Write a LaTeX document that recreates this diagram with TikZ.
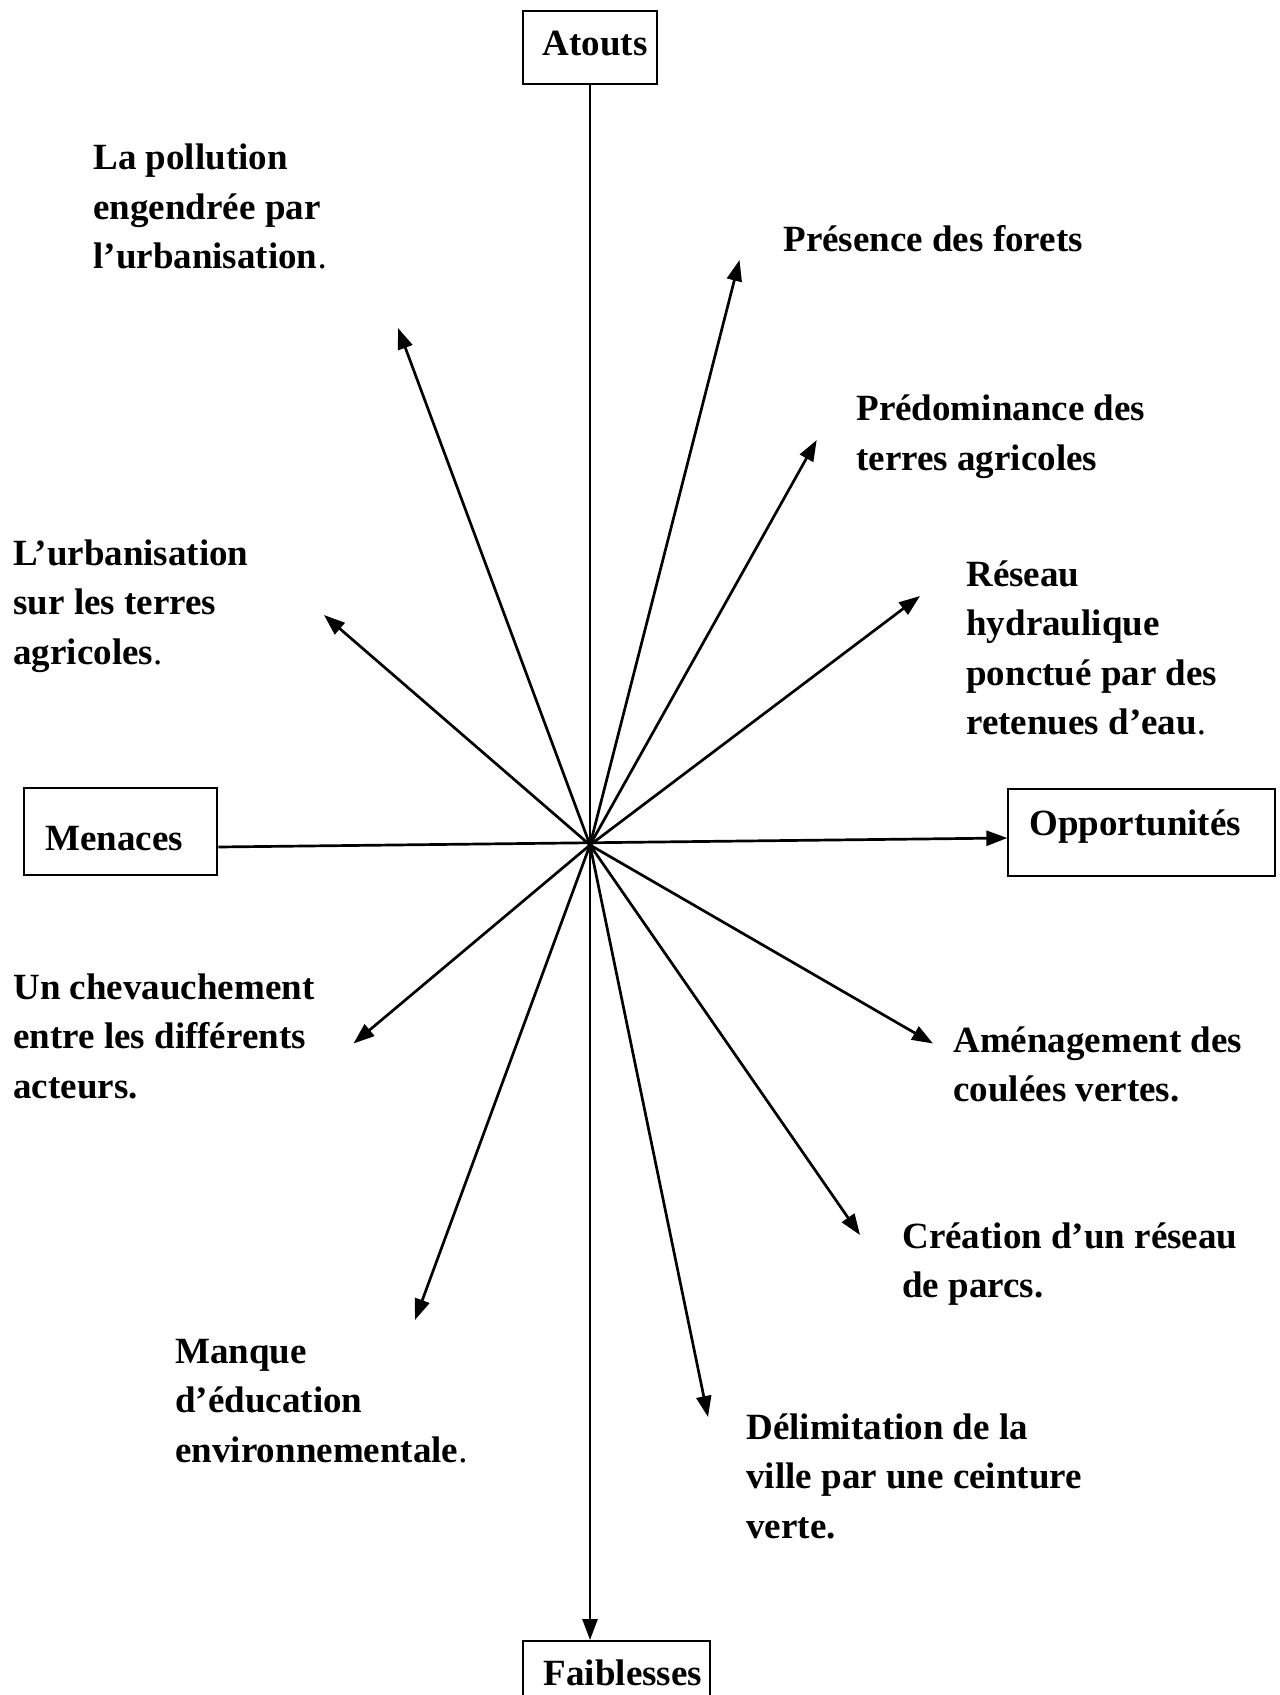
\documentclass[tikz,border=0pt]{standalone}
\usepackage{fontspec}
\setmainfont{Liberation Serif}
\usepackage{tikz}
\usetikzlibrary{positioning,arrows.meta}
\newcommand{\lignes}[1]{\begin{tabular}[t]{@{}l@{}}#1\end{tabular}}
\newcommand{\pt}{{\mdseries .}}

\begin{document}
\begin{tikzpicture}[x=0.5pt,y=-0.5pt,
		every node/.style={font=\fontsize{18.5}{24.75}\selectfont\bfseries},
		boite/.style={draw=black,line width=1pt,inner sep=0pt},
		txt/.style={anchor=base west,inner sep=0pt},
		fleche/.style={-{Triangle[length=10.5pt,width=7.5pt]},line width=1.35pt}]
		\useasboundingbox (0,0) rectangle (1279,1695);

		% les quatre cases
		\node[boite,minimum width=67pt,minimum height=36.8pt,text height=13pt,text depth=4.5pt] (atouts) at (590,47.5) {\hspace*{5pt}Atouts};
		\node[boite,minimum width=93.5pt,minimum height=37pt,text height=13pt,text depth=6pt] (faiblesses) at (616.5,1678) {\hspace*{6.5pt}Faiblesses};
		\node[boite,minimum width=96.5pt,minimum height=43.35pt,text height=20pt,text depth=1.7pt] (menaces) at (120.8,831.7) {Menaces\hspace*{6.5pt}};
		\node[boite,minimum width=133.35pt,minimum height=43.5pt,text height=13pt,text depth=10.5pt] (opport) at (1141.7,832.5) {Opportunités\hspace*{6.5pt}};

		% les textes
		\node[txt] (pollution) at (93,170) {\lignes{La pollution\\engendrée par\\l’urbanisation\pt}};
		\node[txt] (forets) at (783,252) {Présence des forets};
		\node[txt] (predom) at (856,421) {\lignes{Prédominance des\\terres agricoles}};
		\node[txt] (reseau) at (966,586) {\lignes{Réseau\\hydraulique\\ponctué par des\\retenues d’eau\pt}};
		\node[txt] (urbanis) at (13,565) {\lignes{L’urbanisation\\sur les terres\\agricoles\pt}};
		\node[txt] (chevauch) at (13,999) {\lignes{Un chevauchement\\entre les différents\\acteurs.}};
		\node[txt] (amenag) at (953,1052) {\lignes{Aménagement des\\coulées vertes.}};
		\node[txt] (creation) at (902,1248) {\lignes{Création d’un réseau\\de parcs.}};
		\node[txt] (manque) at (175,1363) {\lignes{Manque\\d’éducation\\environnementale\pt}};
		\node[txt] (delim) at (746,1439) {\lignes{Délimitation de la\\ville par une ceinture\\verte.}};

		% centre et pointes des fleches
		\coordinate (centre) at (590,845);
		\coordinate (pPollution) at (398,328);
		\coordinate (pForets) at (739.5,260);
		\coordinate (pPredom) at (816.7,440);
		\coordinate (pReseau) at (920,596);
		\coordinate (pUrbanis) at (324,615);
		\coordinate (pChevauch) at (353.5,1043.5);
		\coordinate (pAmenag) at (933,1043.5);
		\coordinate (pCreation) at (860,1235);
		\coordinate (pManque) at (415,1320);
		\coordinate (pDelim) at (708,1417);

		\draw[fleche] (atouts.south)--(atouts.south |- faiblesses.north);
		\draw[fleche] ([yshift=-7.65pt]menaces.east)--([yshift=-2.75pt]opport.west);
		\draw[fleche] (centre)--(pPollution);
		\draw[fleche] (centre)--(pForets);
		\draw[fleche] (centre)--(pPredom);
		\draw[fleche] (centre)--(pReseau);
		\draw[fleche] (centre)--(pUrbanis);
		\draw[fleche] (centre)--(pChevauch);
		\draw[fleche] (centre)--(pAmenag);
		\draw[fleche] (centre)--(pCreation);
		\draw[fleche] (centre)--(pManque);
		\draw[fleche] (centre)--(pDelim);
	\end{tikzpicture}
\end{document}
